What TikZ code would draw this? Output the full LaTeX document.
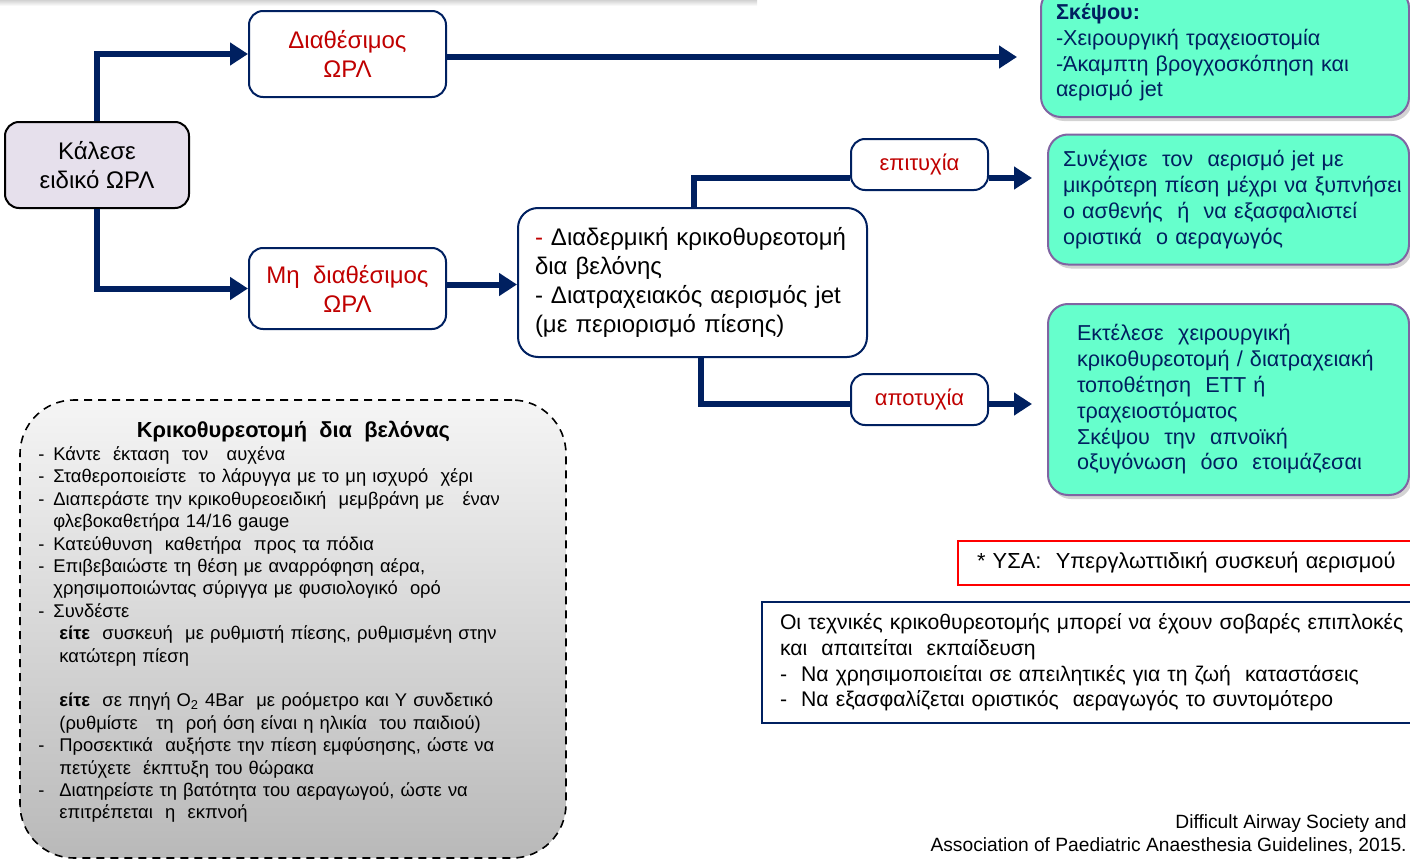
\documentclass[tikz,border=0pt]{standalone}
\usepackage{fontspec}
\setmainfont{Liberation Sans}
\usepackage{tikz}
\usetikzlibrary{positioning, arrows.meta, calc, shadows}

\definecolor{navyline}{RGB}{0,32,96}
\definecolor{boxred}{RGB}{192,0,0}
\definecolor{aqua}{RGB}{102,255,204}
\definecolor{aquaedge}{RGB}{128,100,162}
\definecolor{lavender}{RGB}{230,224,236}

\newcommand{\dashA}{\makebox[7.5pt][l]{-}}
\newcommand{\dashB}{\makebox[10.5pt][l]{-}}

\begin{document}
\begin{tikzpicture}[x=0.5pt, y=-0.5pt, font=\fontsize{12}{14.5}\selectfont,
  conn/.style={line width=3pt, draw=navyline},
  >={Triangle[length=9pt, width=11pt]},
  bluebox/.style={draw=navyline, line width=1pt, fill=white, rounded corners=7pt,
    align=center, inner sep=0pt},
  smallbox/.style={bluebox, text=boxred, minimum width=68.5pt, minimum height=25.5pt,
    font=\fontsize{11}{13}\selectfont},
  greenbox/.style={draw=aquaedge, line width=1pt, fill=aqua, rounded corners=10pt,
    align=left, inner sep=0pt, text=navyline, font=\fontsize{10.8}{12.9}\selectfont,
    drop shadow={shadow xshift=1.5pt, shadow yshift=-2pt, opacity=0.35}}]

  \useasboundingbox (0,0) rectangle (1410,862);

  % --- Striscia in alto ---
  \shade[top color=gray!35, bottom color=white] (0,0) rectangle (757,6);

  % --- Box a sinistra ---
  \node[bluebox, fill=lavender, draw=black, minimum width=92pt, minimum height=43pt]
    (kalese) at (97,165) {Κάλεσε\\ειδικό ΩΡΛ};
  \node[bluebox, text=boxred, minimum width=98.5pt, minimum height=43pt]
    (diath) at (347.5,54) {Διαθέσιμος\\ΩΡΛ};
  \node[bluebox, text=boxred, minimum width=98.5pt, minimum height=40.5pt]
    (mhdiath) at (347.5,288.5) {Μη\ \ διαθέσιμος\\ΩΡΛ};

  % --- Box centrale ---
  \node[bluebox, align=left, rounded corners=10pt, minimum width=174.5pt,
    minimum height=74.5pt, text width=157.5pt]
    (diaderm) at (692.5,282.5)
    {\makebox[\linewidth][s]{\textcolor{boxred}{-} Διαδερμική κρικοθυρεοτομή}\\
     δια βελόνης\\
     \makebox[\linewidth][s]{- Διατραχειακός αερισμός jet}\\
     (με περιορισμό πίεσης)};

  \node[smallbox] (epit) at (919.5,164.5) {επιτυχία};
  \node[smallbox] (apot) at (919.5,399.5) {αποτυχία};

  % --- Box verdi ---
  \node[greenbox, text width=169pt, minimum width=184pt, minimum height=64.5pt]
    (skepsou) at (1225,52.5)
    {\textbf{Σκέψου:}\\-Χειρουργική τραχειοστομία\\-Άκαμπτη βρογχοσκόπηση και\\αερισμό jet};
  \node[greenbox, text width=165.5pt, minimum width=180.5pt, minimum height=65pt]
    (synexise) at (1228.5,199.5)
    {Συνέχισε\ \ τον\ \ αερισμό jet με\\\mbox{μικρότερη πίεση μέχρι να ξυπνήσει}\\ο ασθενής \ ή\ \ να εξασφαλιστεί\\οριστικά\ \ ο αεραγωγός};
  \node[greenbox, text width=151.5pt, minimum width=180.5pt, minimum height=95.5pt]
    (ektelese) at (1228.5,399.5)
    {Εκτέλεσε\ \ χειρουργική\\κρικοθυρεοτομή / διατραχειακή\\τοποθέτηση\ \ ΕΤΤ ή\\τραχειοστόματος\\Σκέψου\ \ την\ \ απνοϊκή\\οξυγόνωση\ \ όσο\ \ ετοιμάζεσαι};

  % --- Note a destra ---
  \node[draw=red, line width=1pt, minimum width=231pt, minimum height=22pt,
    text width=212pt, align=left, inner sep=0pt, font=\fontsize{10.9}{12}\selectfont]
    (ysa) at (1189,563) {\mbox{* ΥΣΑ:\ \ Υπεργλωττιδική συσκευή αερισμού}};
  \node[draw=navyline, line width=1pt, minimum width=334pt, minimum height=60.5pt,
    text width=316pt, align=left, inner sep=0pt, font=\fontsize{10.6}{12.8}\selectfont]
    (info) at (1096,662.5)
    {Οι τεχνικές κρικοθυρεοτομής μπορεί να έχουν σοβαρές επιπλοκές\\
     και\ \ απαιτείται\ \ εκπαίδευση\\
     - \ Να χρησιμοποιείται σε απειλητικές για τη ζωή\ \ καταστάσεις\\
     - \ Να εξασφαλίζεται οριστικός\ \ αεραγωγός το συντομότερο};

  % --- Box tratteggiato ---
  \node[draw=black, line width=0.8pt, dash pattern=on 4pt off 3pt, rounded corners=27pt,
    top color=gray!8, bottom color=gray!55, minimum width=273pt, minimum height=229pt]
    (krikobox) at (293,629) {};
  \node[anchor=north west, inner sep=0pt, text width=255pt, align=left,
    font=\fontsize{9.2}{11.2}\selectfont]
    (krikotext) at (38,421)
    {\makebox[\linewidth]{\fontsize{10.9}{12}\selectfont\bfseries Κρικοθυρεοτομή\ \ δια\ \ βελόνας}\\[0.2pt]
     \dashA Κάντε\ \ έκταση\ \ τον\ \ \ αυχένα\\
     \dashA Σταθεροποιείστε\ \ το λάρυγγα με το μη ισχυρό\ \ χέρι\\
     \dashA Διαπεράστε την κρικοθυρεοειδική\ \ μεμβράνη με\ \ \ έναν\\
     \hspace*{7.5pt}φλεβοκαθετήρα 14/16 gauge\\
     \dashA Κατεύθυνση\ \ καθετήρα\ \ προς τα πόδια\\
     \dashA Επιβεβαιώστε τη θέση με αναρρόφηση αέρα,\\
     \hspace*{7.5pt}χρησιμοποιώντας σύριγγα με φυσιολογικό\ \ ορό\\
     \dashA Συνδέστε\\
     \hspace*{10.5pt}\textbf{είτε}\ \ συσκευή\ \ με ρυθμιστή πίεσης, ρυθμισμένη στην\\
     \hspace*{10.5pt}κατώτερη πίεση\\[11.2pt]
     \hspace*{10.5pt}\textbf{είτε}\ \ σε πηγή O\textsubscript{2} 4Bar\ \ με ροόμετρο και Υ συνδετικό\\
     \hspace*{10.5pt}(ρυθμίστε\ \ \ τη\ \ ροή όση είναι η ηλικία\ \ του παιδιού)\\
     \dashB Προσεκτικά\ \ αυξήστε την πίεση εμφύσησης, ώστε να\\
     \hspace*{10.5pt}πετύχετε\ \ έκπτυξη του θώρακα\\
     \dashB Διατηρείστε τη βατότητα του αεραγωγού, ώστε να\\
     \hspace*{10.5pt}επιτρέπεται\ \ η\ \ εκπνοή};

  % --- Fonte ---
  \node[anchor=north east, align=right, inner sep=0pt, font=\fontsize{9.6}{11.5}\selectfont]
    (source) at (1407,814)
    {Difficult Airway Society and\\Association of Paediatric Anaesthesia Guidelines, 2015.};

  % --- Collegamenti ---
  \coordinate (diathout) at ([yshift=-1.5pt]diath.east);
  \coordinate (mhout) at ([yshift=2pt]mhdiath.east);
  \coordinate (epitin) at ([yshift=-6.75pt]epit.west);
  \coordinate (epitout) at ([yshift=-6.75pt]epit.east);
  \coordinate (apotin) at ([yshift=-2.25pt]apot.west);
  \coordinate (apotout) at ([yshift=-2.25pt]apot.east);

  \draw[conn, ->] (kalese.north) |- (diath.west);
  \draw[conn, ->] (kalese.south) |- (mhdiath.west);
  \draw[conn, ->, shorten >=11.5pt] (diathout) -- (diathout -| skepsou.west);
  \draw[conn, ->] (mhout) -- (mhout -| diaderm.west);
  \draw[conn] ([xshift=0.75pt]diaderm.north) |- (epitin);
  \draw[conn] ([xshift=4.25pt]diaderm.south) |- (apotin);
  \draw[conn, ->, shorten >=7.5pt] (epitout) -- (epitout -| synexise.west);
  \draw[conn, ->, shorten >=7.5pt] (apotout) -- (apotout -| ektelese.west);

\end{tikzpicture}
\end{document}
